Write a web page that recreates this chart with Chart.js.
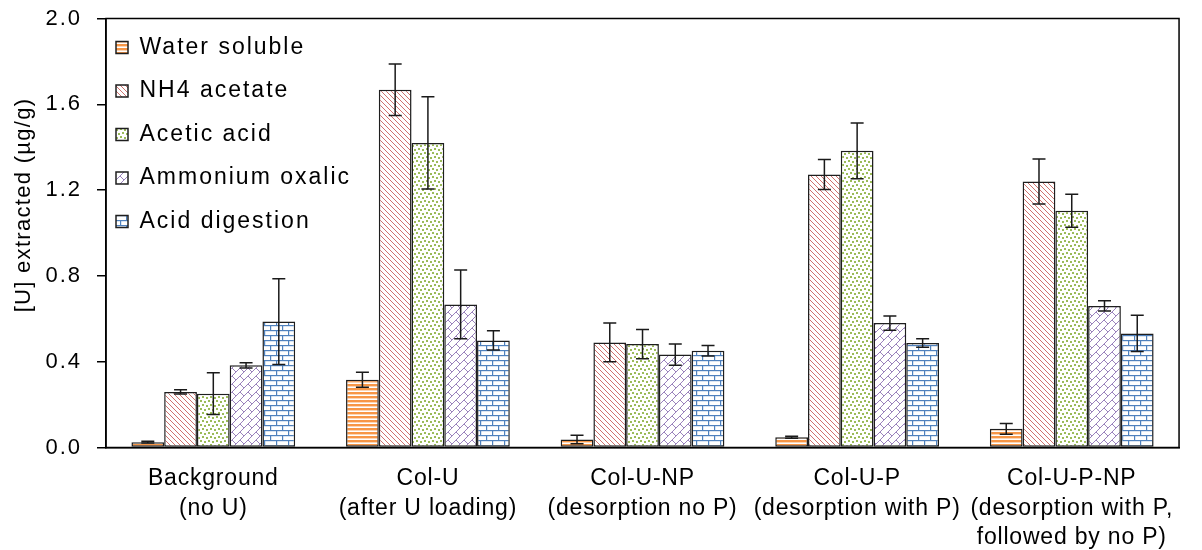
<!DOCTYPE html>
<html>
<head>
<meta charset="utf-8">
<script src="https://cdn.jsdelivr.net/npm/chart.js@4.4.1/dist/chart.umd.min.js"></script>
<style>
  html, body { margin: 0; padding: 0; background: #ffffff; }
  #wrap { width: 1202px; height: 550px; position: relative; }
</style>
</head>
<body>
<div id="wrap"><canvas id="c" width="1202" height="550"></canvas></div>
<script>
// ---- Data ----
const categories = [
  ['Background', '(no U)'],
  ['Col-U', '(after U loading)'],
  ['Col-U-NP', '(desorption no P)'],
  ['Col-U-P', '(desorption with P)'],
  ['Col-U-P-NP', '(desorption with P,', 'followed by no P)']
];
const seriesNames = ['Water soluble', 'NH4 acetate', 'Acetic acid', 'Ammonium oxalic', 'Acid digestion'];
const waterSoluble    = [0.025, 0.316, 0.037, 0.048, 0.087];
const waterSolubleErr = [0.004, 0.035, 0.020, 0.005, 0.025];
const nh4Acetate      = [0.259, 1.668, 0.490, 1.273, 1.240];
const nh4AcetateErr   = [0.010, 0.120, 0.090, 0.070, 0.105];
const aceticAcid      = [0.251, 1.420, 0.482, 1.383, 1.104];
const aceticAcidErr   = [0.097, 0.215, 0.068, 0.130, 0.077];
const ammoniumOxalic  = [0.383, 0.667, 0.433, 0.580, 0.660];
const ammoniumOxalicErr = [0.012, 0.160, 0.050, 0.033, 0.024];
const acidDigestion   = [0.587, 0.499, 0.451, 0.487, 0.532];
const acidDigestionErr = [0.200, 0.045, 0.025, 0.020, 0.085];
const yTicks = [0, 0.4, 0.8, 1.2, 1.6, 2.0];

// ---- Patterns ----
function tile(w, h, draw) {
  const c = document.createElement('canvas');
  c.width = w; c.height = h;
  const x = c.getContext('2d');
  x.fillStyle = '#ffffff'; x.fillRect(0, 0, w, h);
  draw(x, w, h);
  return x.createPattern(c, 'repeat');
}
const patWater = tile(4, 4, (x) => { x.fillStyle = '#F79646'; x.fillRect(0, 0, 4, 2.4); });
const patNH4 = tile(5, 5, (x) => {
  x.fillStyle = '#D0716E';
  for (let i = 0; i < 5; i++) { x.fillRect(i, i, 1, 1); }
});
const patAcetic = tile(8, 8, (x) => {
  x.fillStyle = '#9BBB59';
  x.fillRect(0, 0, 2, 2); x.fillRect(4, 1, 2, 2);
  x.fillRect(2, 4, 2, 2); x.fillRect(6, 5, 2, 2);
});
const patOxalic = tile(16, 16, (x) => {
  x.strokeStyle = '#9A82BC'; x.lineWidth = 1;
  x.beginPath();
  // long "/" lines x + y = c
  for (let c = -16; c <= 48; c += 8) { x.moveTo(c + 8, -8); x.lineTo(-8, c + 8); }
  // brick joints along "\" between rows
  for (let c = -16; c <= 40; c += 8) {
    const r = Math.round(c / 8);
    const par = ((r % 2) + 2) % 2;
    for (let d = -48; d <= 64; d += 16) {
      const dd = d + 8 * par;
      x.moveTo((c + dd) / 2, (c - dd) / 2);
      x.lineTo((c + 8 + dd) / 2, (c + 8 - dd) / 2);
    }
  }
  x.stroke();
});
const patDigest = tile(12, 10, (x) => {
  x.fillStyle = '#4F81BD';
  x.fillRect(0, 0, 12, 1.2);
  x.fillRect(0, 5, 12, 1.2);
  x.fillRect(0, 0, 1.2, 5);
  x.fillRect(6, 5, 1.2, 5);
});

const values = [waterSoluble, nh4Acetate, aceticAcid, ammoniumOxalic, acidDigestion];
const errors = [waterSolubleErr, nh4AcetateErr, aceticAcidErr, ammoniumOxalicErr, acidDigestionErr];
const patterns = [patWater, patNH4, patAcetic, patOxalic, patDigest];

const FONT = "'Liberation Sans', Arial, sans-serif";
const SPACING_MAIN = '2px';
const SPACING_CAT = '0.8px';
const SPACING_TITLE = '1.3px';

const datasets = seriesNames.map((name, i) => ({
  label: name,
  data: values[i],
  errors: errors[i],
  backgroundColor: patterns[i],
  borderColor: '#1e1e1e',
  borderWidth: 1.5,
  borderSkipped: false,
  categoryPercentage: 0.763,
  barPercentage: 1.0
}));

function wrapSpacing(obj, method, spacing, dy) {
  const orig = obj[method];
  obj[method] = function (...args) {
    const ctx = this.ctx;
    const prev = ctx.letterSpacing;
    ctx.save();
    ctx.letterSpacing = spacing;
    if (dy) ctx.translate(0, dy);
    orig.apply(this, args);
    ctx.restore();
    ctx.letterSpacing = prev;
  };
}

const spacingPlugin = {
  id: 'spacing',
  beforeUpdate(chart) { chart.ctx.letterSpacing = SPACING_MAIN; },
  beforeDraw(chart) { chart.ctx.letterSpacing = SPACING_MAIN; },
  afterLayout(chart) {
    const xs = chart.scales.x, ys = chart.scales.y;
    if (!xs._patched) { wrapSpacing(xs, 'drawLabels', SPACING_CAT, 0); xs._patched = true; }
    if (!ys._patched) { wrapSpacing(ys, 'drawTitle', SPACING_TITLE, -28); ys._patched = true; }
    const lg = chart.legend;
    if (lg) {
      lg.left = 95.5; lg.top = 15.5;
      lg.right = chart.width; lg.bottom = chart.height;
    }
  }
};

const errorBarPlugin = {
  id: 'errorBars',
  afterDatasetsDraw(chart) {
    const ctx = chart.ctx;
    const yScale = chart.scales.y;
    ctx.save();
    ctx.strokeStyle = '#1a1a1a';
    ctx.lineWidth = 1.5;
    chart.data.datasets.forEach((ds, di) => {
      const meta = chart.getDatasetMeta(di);
      meta.data.forEach((bar, i) => {
        const v = ds.data[i], e = ds.errors[i];
        const yTop = yScale.getPixelForValue(v + e);
        const yBot = yScale.getPixelForValue(v - e);
        const x = bar.x, cap = 6.5;
        ctx.beginPath();
        ctx.moveTo(x, yTop); ctx.lineTo(x, yBot);
        ctx.moveTo(x - cap, yTop); ctx.lineTo(x + cap, yTop);
        ctx.moveTo(x - cap, yBot); ctx.lineTo(x + cap, yBot);
        ctx.stroke();
      });
    });
    ctx.restore();
  }
};

const framePlugin = {
  id: 'frame',
  afterDraw(chart) {
    const a = chart.chartArea, ctx = chart.ctx;
    ctx.save();
    ctx.strokeStyle = '#000000';
    ctx.lineWidth = 1.5;
    ctx.strokeRect(a.left, a.top, a.right - a.left, a.bottom - a.top);
    ctx.restore();
  }
};

new Chart(document.getElementById('c'), {
  type: 'bar',
  data: { labels: categories, datasets },
  options: {
    responsive: false,
    animation: false,
    layout: { padding: { left: 0, right: 5, top: 18.5, bottom: 0 } },
    plugins: {
      legend: {
        position: 'chartArea',
        align: 'start',
        labels: {
          color: '#000000',
          font: { family: FONT, size: 23 },
          boxWidth: 12,
          boxHeight: 12,
          padding: 20.5
        }
      },
      tooltip: { enabled: false }
    },
    scales: {
      x: {
        grid: { display: false, drawTicks: false },
        border: { display: true, color: '#000000', width: 1.5 },
        ticks: {
          color: '#000000',
          font: { family: FONT, size: 23, lineHeight: 1.27 },
          padding: 17,
          maxRotation: 0,
          autoSkip: false
        },
        afterFit(s) { s.height = 102.5; }
      },
      y: {
        min: 0,
        max: 2.0,
        afterBuildTicks(s) { s.ticks = yTicks.map(v => ({ value: v })); },
        grid: { drawOnChartArea: false, drawTicks: true, tickLength: 9, color: '#000000', lineWidth: 1.5 },
        border: { display: true, color: '#000000', width: 1.5 },
        ticks: {
          color: '#000000',
          font: { family: FONT, size: 22 },
          padding: 15,
          callback: (v) => Number(v).toFixed(1)
        },
        title: {
          display: true,
          text: '[U] extracted (µg/g)',
          color: '#000000',
          font: { family: FONT, size: 22 },
          padding: { top: 11, bottom: 0 }
        },
        afterFit(s) { s.width = 106; s.paddingTop = 0; s.paddingBottom = 0; }
      }
    }
  },
  plugins: [spacingPlugin, errorBarPlugin, framePlugin]
});
</script>
</body>
</html>
